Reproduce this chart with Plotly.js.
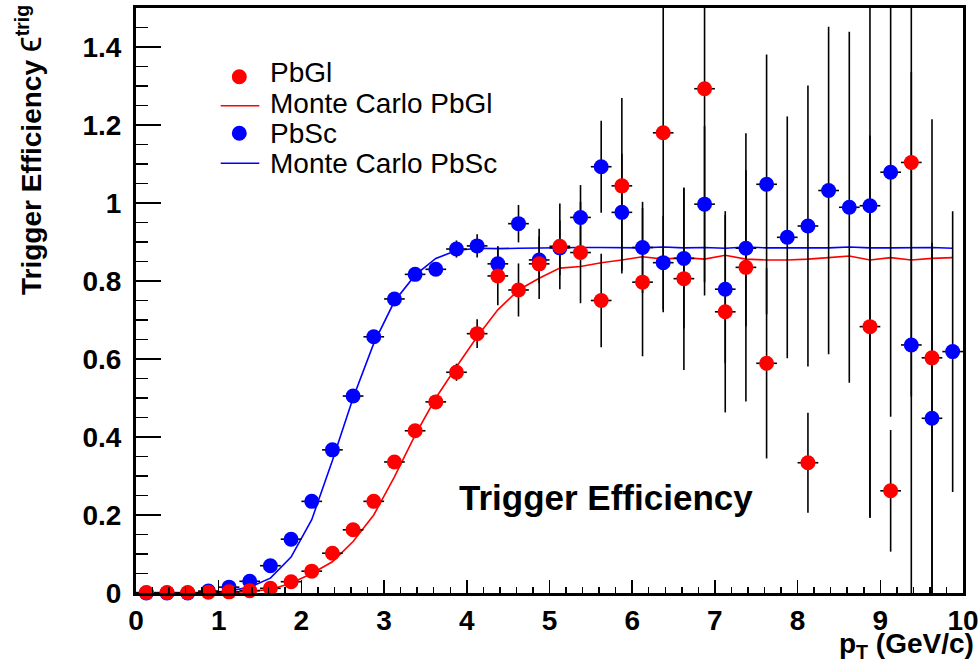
<!DOCTYPE html>
<html>
<head>
<meta charset="utf-8">
<script src="https://cdn.plot.ly/plotly-3.0.1.min.js"></script>
<style>html,body{margin:0;padding:0;background:#fff;}#chart{width:979px;height:666px;}</style>
</head>
<body>
<div id="chart"></div>
<script>
// Bin centres (GeV/c)
const ptBins = [0.125,0.375,0.625,0.875,1.125,1.375,1.625,1.875,2.125,2.375,
                2.625,2.875,3.125,3.375,3.625,3.875,4.125,4.375,4.625,4.875,
                5.125,5.375,5.625,5.875,6.125,6.375,6.625,6.875,7.125,7.375,
                7.625,7.875,8.125,8.375,8.625,8.875,9.125,9.375,9.625,9.875];
const binHalfWidth = 0.125;

// PbGl measured efficiency and errors
const pbglEff = [0.001,0.001,0.001,0.002,0.003,0.006,0.012,0.029,0.056,0.102,
                 0.162,0.235,0.336,0.416,0.490,0.566,0.665,0.813,0.777,0.844,
                 0.889,0.873,0.750,1.044,0.797,1.180,0.806,1.293,0.721,0.835,
                 0.589,null,0.334,null,null,0.683,0.262,1.104,0.603,null];
const pbglErr = [0,0,0,0,0.001,0.002,0.003,0.005,0.006,0.008,
                 0.010,0.012,0.015,0.015,0.018,0.022,0.037,0.075,0.068,0.090,
                 0.110,0.130,0.120,0.225,0.190,0.460,0.234,0.530,0.258,0.344,
                 0.244,null,0.128,null,null,0.490,0.156,0.600,0.612,null];

// PbSc measured efficiency and errors
const pbscEff = [0.000,0.000,0.000,0.005,0.015,0.030,0.070,0.138,0.235,0.367,
                 0.505,0.657,0.754,0.817,0.830,0.882,0.890,0.844,0.947,0.854,
                 0.885,0.963,1.093,0.976,0.886,0.847,0.858,0.997,0.779,0.884,
                 1.048,0.912,0.941,1.032,0.989,0.993,1.079,0.636,0.448,0.619];
const pbscErr = [0,0,0,0.001,0.002,0.003,0.005,0.007,0.009,0.011,
                 0.012,0.013,0.013,0.014,0.015,0.022,0.030,0.045,0.048,0.060,
                 0.070,0.083,0.118,0.150,0.117,0.120,0.180,0.200,0.190,0.200,
                 0.333,0.310,0.360,0.420,0.450,0.800,0.627,0.700,0.450,0.360];

// Monte Carlo curves
const mcPbgl = [0,0,0,0,0.001,0.004,0.009,0.025,0.050,0.080,
                0.132,0.200,0.298,0.405,0.500,0.580,0.657,0.726,0.777,0.807,
                0.833,0.837,0.847,0.854,0.862,0.856,0.860,0.856,0.866,0.856,
                0.854,0.854,0.856,0.860,0.864,0.854,0.860,0.854,0.858,0.860];
const mcPbsc = [0,0,0,0.001,0.005,0.015,0.038,0.092,0.188,0.340,
                0.500,0.640,0.748,0.815,0.858,0.878,0.884,0.883,0.884,0.885,
                0.886,0.886,0.886,0.885,0.885,0.887,0.885,0.886,0.884,0.887,
                0.885,0.885,0.885,0.885,0.887,0.885,0.885,0.886,0.886,0.884];

const seriesNames = ["PbGl","Monte Carlo PbGl","PbSc","Monte Carlo PbSc"];
const RED = "#ff0000", BLUE = "#0000ff";
const FONT = "Liberation Sans, Arial, Helvetica, sans-serif";

function errTrace(y, err){
  return {
    x: ptBins, y: y, type: "scatter", mode: "markers",
    marker: {size: 2, opacity: 0},
    error_y: {type: "data", array: err, visible: true, color: "#000", thickness: 1.6, width: 0},
    error_x: {type: "constant", value: binHalfWidth, visible: true, color: "#000", thickness: 1.6, width: 0},
    cliponaxis: true, showlegend: false, hoverinfo: "skip"
  };
}
function markTrace(y, color, name){
  return {
    x: ptBins, y: y, type: "scatter", mode: "markers", name: name,
    marker: {size: 15, color: color, symbol: "circle"},
    cliponaxis: false, showlegend: false
  };
}
function lineTrace(y, color, name){
  return {
    x: ptBins, y: y, type: "scatter", mode: "lines", name: name,
    line: {color: color, width: 1.6}, showlegend: false
  };
}

const data = [
  lineTrace(mcPbsc, BLUE, seriesNames[3]),
  lineTrace(mcPbgl, RED, seriesNames[1]),
  errTrace(pbscEff, pbscErr),
  errTrace(pbglEff, pbglErr),
  markTrace(pbscEff, BLUE, seriesNames[2]),
  markTrace(pbglEff, RED, seriesNames[0])
];

// plot area geometry (px) for paper conversions
const L = 136, R = 963, T = 8, B = 593;
const px = v => (v - L) / (R - L);
const py = v => (B - v) / (B - T);

const legendRows = [
  {name: seriesNames[0], y: 72.8, kind: "marker", color: RED, sy: 76.7},
  {name: seriesNames[1], y: 103.8, kind: "line", color: RED, sy: 105.7},
  {name: seriesNames[2], y: 133.3, kind: "marker", color: BLUE, sy: 133.3},
  {name: seriesNames[3], y: 163.3, kind: "line", color: BLUE, sy: 163.3}
];

const annotations = legendRows.map(r => ({
  xref: "paper", yref: "paper", x: px(268), y: py(r.y), xanchor: "left", yanchor: "middle",
  text: r.name, showarrow: false, font: {family: FONT, size: 28, color: "#000"}
}));
annotations.push({
  xref: "paper", yref: "paper", x: px(605.5), y: py(497.5), xanchor: "center", yanchor: "middle",
  text: "<b>Trigger Efficiency</b>", showarrow: false, font: {family: FONT, size: 35, color: "#000"}
});
annotations.push({
  xref: "paper", yref: "paper", x: px(976), y: py(645), xanchor: "right", yanchor: "middle",
  text: "<b>p<sub>T</sub> (GeV/c)</b>", showarrow: false, font: {family: FONT, size: 28, color: "#000"}
});
annotations.push({
  xref: "paper", yref: "paper", x: px(28), y: py(3), xanchor: "center", yanchor: "top",
  textangle: -90,
  text: "<b>Trigger Efficiency</b> <span style=\"font-size:36px\">ϵ</span><sup><b>trig</b></sup>", showarrow: false,
  font: {family: FONT, size: 28, color: "#000"}
});

const shapes = [];
legendRows.forEach(r => {
  if (r.kind === "marker") {
    shapes.push({type: "circle", xref: "paper", yref: "paper", xsizemode: "pixel", ysizemode: "pixel",
      xanchor: px(239.3), yanchor: py(r.sy), x0: -7.5, x1: 7.5, y0: -7.5, y1: 7.5,
      fillcolor: r.color, line: {width: 0}});
  } else {
    shapes.push({type: "line", xref: "paper", yref: "paper", x0: px(220.7), x1: px(259.3),
      y0: py(r.sy), y1: py(r.sy), line: {color: r.color, width: 1.6}});
  }
});

const layout = {
  width: 979, height: 666,
  margin: {l: L, r: 979 - R, t: T, b: 666 - B, pad: 0},
  paper_bgcolor: "#fff", plot_bgcolor: "#fff",
  showlegend: false,
  font: {family: FONT, color: "#000"},
  xaxis: {
    range: [0, 10], showgrid: false, zeroline: false,
    showline: true, linecolor: "#000", linewidth: 3, mirror: true,
    ticks: "inside", ticklen: 13, tickwidth: 1.5, tickcolor: "#000",
    dtick: 1, tick0: 0,
    minor: {ticks: "inside", ticklen: 6, tickwidth: 1.5, tickcolor: "#000", dtick: 0.2},
    tickfont: {family: FONT, size: 28, weight: "bold", color: "#000"},
    ticklabelstandoff: 0
  },
  yaxis: {
    range: [0, 1.5], showgrid: false, zeroline: false,
    showline: true, linecolor: "#000", linewidth: 3, mirror: true,
    ticks: "inside", ticklen: 25, tickwidth: 1.5, tickcolor: "#000",
    dtick: 0.2, tick0: 0,
    minor: {ticks: "inside", ticklen: 12, tickwidth: 1.5, tickcolor: "#000", dtick: 0.05},
    tickfont: {family: FONT, size: 28, weight: "bold", color: "#000"},
    ticklabelstandoff: 6
  },
  annotations: annotations,
  shapes: shapes
};

Plotly.newPlot("chart", data, layout, {displayModeBar: false, staticPlot: true});
</script>
</body>
</html>
